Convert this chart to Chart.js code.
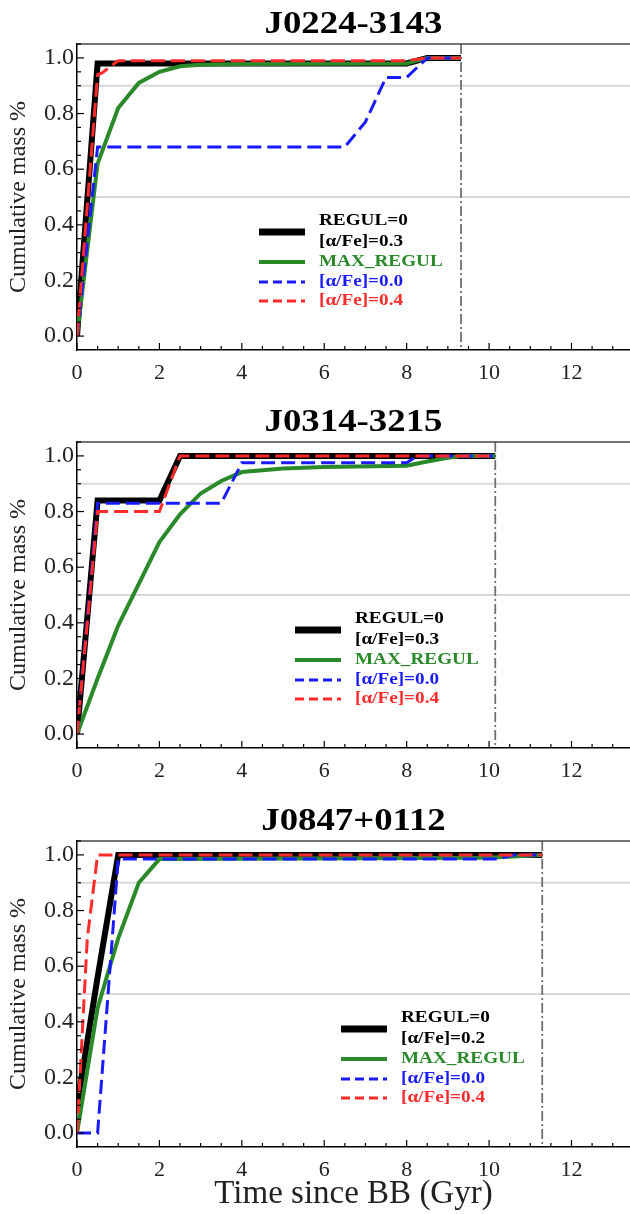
<!DOCTYPE html>
<html>
<head>
<meta charset="utf-8">
<script src="https://cdn.jsdelivr.net/npm/chart.js@4.4.1/dist/chart.umd.min.js"></script>
<style>
  body { margin: 0; background: #fff; }
  canvas { position: absolute; left: 0; }
</style>
</head>
<body>
<canvas id="p1" width="630" height="390" style="top:0px"></canvas>
<canvas id="p2" width="630" height="390" style="top:398px"></canvas>
<canvas id="p3" width="630" height="417" style="top:797px"></canvas>
<script>
// Data: [time (Gyr), cumulative mass fraction]
const titles = ["J0224-3143", "J0314-3215", "J0847+0112"];
const ageLimits = [9.32, 10.15, 11.29];
const alphaBest = ["0.3", "0.3", "0.2"];
const seriesNames = ["REGUL=0", "MAX_REGUL", "[\u03b1/Fe]=0.0", "[\u03b1/Fe]=0.4"];
const seriesColors = ["#000000", "#2a8a2a", "#1a1aff", "#ff2a2a"];
const yRefLines = [0.5, 0.9];

const j0224Regul = [[0, 0], [0.5, 0.98], [8, 0.98], [8.5, 1.0], [9.32, 1.0]];
const j0224Max = [[0, 0], [0.5, 0.62], [1, 0.82], [1.5, 0.91], [2, 0.95], [2.5, 0.97], [3, 0.975], [4, 0.978], [8, 0.98], [8.5, 1.0], [9.32, 1.0]];
const j0224Alpha00 = [[0, 0], [0.5, 0.68], [6.5, 0.68], [7, 0.77], [7.5, 0.93], [8, 0.93], [8.5, 1.0], [9.32, 1.0]];
const j0224Alpha04 = [[0, 0], [0.5, 0.94], [0.6, 0.945], [1, 0.99], [8, 0.99], [8.5, 1.0], [9.32, 1.0]];

const j0314Regul = [[0, 0], [0.5, 0.84], [2, 0.84], [2.5, 1.0], [10.15, 1.0]];
const j0314Max = [[0, 0], [0.5, 0.2], [1, 0.39], [1.5, 0.54], [2, 0.69], [2.5, 0.79], [3, 0.865], [3.5, 0.91], [4, 0.942], [5, 0.955], [6, 0.96], [8, 0.965], [8.5, 0.98], [9, 0.993], [9.3, 1.0], [10.15, 1.0]];
const j0314Alpha00 = [[0, 0], [0.5, 0.83], [3.5, 0.83], [4, 0.975], [8, 0.975], [8.25, 1.0], [10.15, 1.0]];
const j0314Alpha04 = [[0, 0], [0.5, 0.8], [2, 0.8], [2.5, 1.0], [10.15, 1.0]];

const j0847Regul = [[0, 0.1], [0.5, 0.56], [1, 1.0], [11.29, 1.0]];
const j0847Max = [[0, 0], [0.5, 0.45], [1, 0.7], [1.5, 0.9], [2, 0.985], [10, 0.99], [11.29, 1.0]];
const j0847Alpha00 = [[0, 0], [0.5, 0], [1, 0.985], [10.2, 0.985], [10.6, 1.0], [11.29, 1.0]];
const j0847Alpha04 = [[0, 0], [0.25, 0.7], [0.5, 1.0], [11.29, 1.0]];

const FONT = '"Liberation Serif", "Times New Roman", serif';
const lineWidths = [6, 4, 3, 3];
const lineDashes = [[], [], [14, 6], [14, 6]];

// text squeezed a bit wider, like in the original figure
function wideText(ctx, text, x, y, sx) {
  ctx.save();
  ctx.translate(x, y);
  ctx.scale(sx, 1);
  ctx.fillText(text, 0, 0);
  ctx.restore();
}

// draws the matplotlib-like bits: ref lines, inward ticks, title, legend
const decor = {
  id: "decor",
  beforeDatasetsDraw(chart, args, opts) {
    const ctx = chart.ctx;
    const area = chart.chartArea;
    const x = chart.scales.x;
    const y = chart.scales.y;
    ctx.save();
    ctx.strokeStyle = "#d9d9d9";
    ctx.lineWidth = 2;
    yRefLines.forEach(function (v) {
      const py = y.getPixelForValue(v);
      ctx.beginPath();
      ctx.moveTo(area.left, py);
      ctx.lineTo(area.right, py);
      ctx.stroke();
    });
    const px = x.getPixelForValue(opts.ageLimit);
    ctx.strokeStyle = "#707070";
    ctx.lineWidth = 1.8;
    ctx.setLineDash([10, 3, 2, 3]);
    ctx.beginPath();
    ctx.moveTo(px, area.top);
    ctx.lineTo(px, area.bottom);
    ctx.stroke();
    ctx.restore();
  },
  afterDatasetsDraw(chart, args, opts) {
    const ctx = chart.ctx;
    const area = chart.chartArea;
    const x = chart.scales.x;
    const y = chart.scales.y;
    ctx.save();

    // top spine
    ctx.strokeStyle = "#444";
    ctx.lineWidth = 1.5;
    ctx.beginPath();
    ctx.moveTo(area.left, area.top);
    ctx.lineTo(area.right, area.top);
    ctx.stroke();

    // inward ticks
    ctx.strokeStyle = "#000";
    ctx.lineWidth = 1.2;
    for (let i = 0; i * 0.5 <= x.max; i++) {
      const px = x.getPixelForValue(i * 0.5);
      const len = i % 4 === 0 ? 7 : 4;
      ctx.beginPath();
      ctx.moveTo(px, area.bottom);
      ctx.lineTo(px, area.bottom - len);
      ctx.stroke();
    }
    for (let i = 0; i * 0.05 <= y.max + 1e-9; i++) {
      const py = y.getPixelForValue(i * 0.05);
      const len = i % 4 === 0 ? 7 : 4;
      ctx.beginPath();
      ctx.moveTo(area.left, py);
      ctx.lineTo(area.left + len, py);
      ctx.stroke();
    }

    // title
    ctx.fillStyle = "#000";
    ctx.font = "bold 32px " + FONT;
    ctx.textAlign = "center";
    ctx.textBaseline = "alphabetic";
    wideText(ctx, opts.title, (area.left + area.right) / 2, 33, 1.15);

    // legend
    const lx = area.left + opts.legendX;
    const tx = lx + 60;
    const top = area.top;
    ctx.fillStyle = "rgba(255,255,255,0.85)";
    ctx.fillRect(lx - 8, top + 162, 200, 108);
    const rows = [188, 218, 238, 257];
    ctx.font = "bold 16px " + FONT;
    ctx.textAlign = "left";
    ctx.textBaseline = "middle";
    rows.forEach(function (ry, i) {
      ctx.strokeStyle = seriesColors[i];
      ctx.lineWidth = i === 0 ? 7 : lineWidths[i];
      ctx.setLineDash(i > 1 ? [9, 5] : []);
      ctx.beginPath();
      ctx.moveTo(lx, top + ry);
      ctx.lineTo(lx + 46, top + ry);
      ctx.stroke();
      ctx.fillStyle = seriesColors[i];
      if (i === 0) {
        wideText(ctx, seriesNames[0], tx, top + 177, 1.2);
        wideText(ctx, "[\u03b1/Fe]=" + opts.alpha, tx, top + 198, 1.2);
      } else {
        wideText(ctx, seriesNames[i], tx, top + ry, 1.2);
      }
    });
    ctx.restore();
  }
};

function makePanel(canvasId, idx, series, legendX, xAxisHeight, showXTitle) {
  const datasets = series.map(function (pts, i) {
    return {
      label: seriesNames[i],
      data: pts.map(function (p) { return { x: p[0], y: p[1] }; }),
      borderColor: seriesColors[i],
      borderWidth: lineWidths[i],
      borderDash: lineDashes[i],
      pointRadius: 0,
      tension: 0,
      fill: false,
      order: 4 - i
    };
  });

  new Chart(document.getElementById(canvasId), {
    type: "line",
    data: { datasets: datasets },
    options: {
      responsive: false,
      animation: false,
      layout: { padding: { top: 44, left: 0, right: 0, bottom: 0 } },
      plugins: {
        legend: { display: false },
        tooltip: { enabled: false },
        decor: {
          title: titles[idx],
          ageLimit: ageLimits[idx],
          alpha: alphaBest[idx],
          legendX: legendX
        }
      },
      scales: {
        x: {
          type: "linear",
          min: 0,
          max: 13.42,
          border: { color: "#000", width: 1.5 },
          grid: { display: false },
          ticks: {
            stepSize: 2,
            includeBounds: false,
            autoSkip: false,
            maxRotation: 0,
            padding: 2,
            color: "#222",
            font: { family: FONT, size: 22 }
          },
          title: {
            display: showXTitle,
            text: "Time since BB (Gyr)",
            color: "#222",
            font: { family: FONT, size: 33 },
            padding: { top: 0, bottom: 0 }
          },
          afterFit: function (scale) { scale.height = xAxisHeight; }
        },
        y: {
          min: -0.05,
          max: 1.05,
          border: { color: "#000", width: 1.5 },
          grid: { display: false, drawTicks: false },
          ticks: {
            stepSize: 0.2,
            includeBounds: false,
            padding: 3,
            color: "#222",
            font: { family: FONT, size: 24 },
            callback: function (v) { return v.toFixed(1); }
          },
          title: {
            display: true,
            text: "Cumulative mass %",
            color: "#222",
            font: { family: FONT, size: 24 },
            padding: { top: 4, bottom: 0 }
          },
          afterFit: function (scale) { scale.width = 77; }
        }
      }
    },
    plugins: [decor]
  });
}

makePanel("p1", 0, [j0224Regul, j0224Max, j0224Alpha00, j0224Alpha04], 182, 40, false);
makePanel("p2", 1, [j0314Regul, j0314Max, j0314Alpha00, j0314Alpha04], 218, 40, false);
makePanel("p3", 2, [j0847Regul, j0847Max, j0847Alpha00, j0847Alpha04], 264, 67, true);
</script>
</body>
</html>
